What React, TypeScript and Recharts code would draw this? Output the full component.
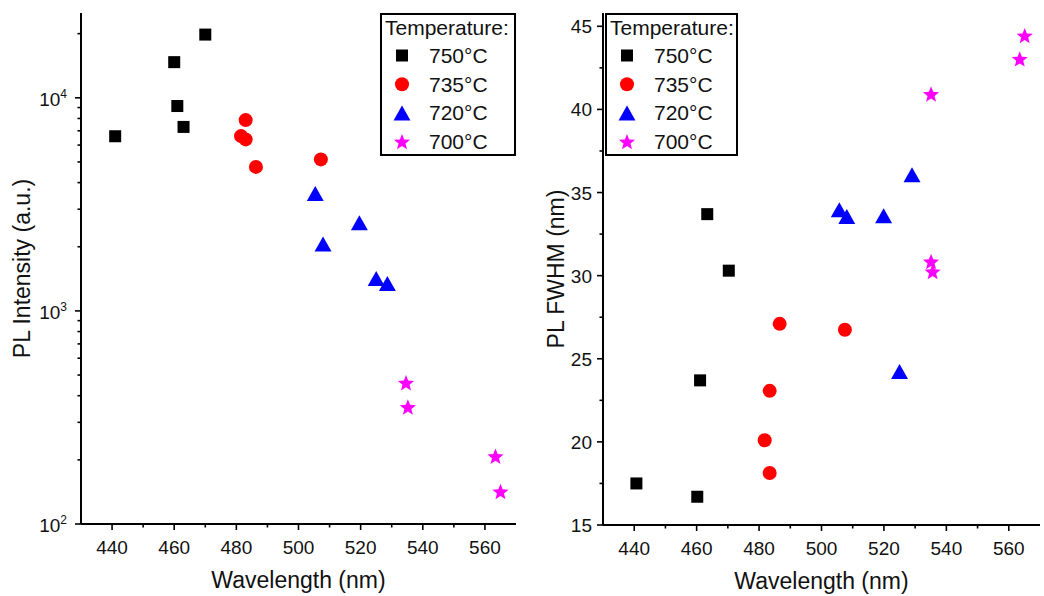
import { Label, Legend, Scatter, ScatterChart, XAxis, YAxis } from "recharts";

const FONT = "'Liberation Sans', Arial, Helvetica, sans-serif";
const INK = "#111";

// series: growth temperature
const TEMPS = ["750°C", "735°C", "720°C", "700°C"];
const COLORS = ["#000000", "#ff0000", "#0000ff", "#ff00ff"];
const SHAPES = ["square", "circle", "triangle", "star"];

// wavelength axis (shared)
const WL_MAJOR = [440, 460, 480, 500, 520, 540, 560];
const WL_MINOR = [450, 470, 490, 510, 530, 550];

// left panel: PL intensity (log)
const INT_MAJOR = [100, 1000, 10000];
const INT_MINOR = [
  200, 300, 400, 500, 600, 700, 800, 900,
  2000, 3000, 4000, 5000, 6000, 7000, 8000, 9000, 20000,
];
const INT_WL_750 = [441, 460, 461, 463, 470];
const INT_750 = [6600, 14700, 9150, 7300, 19800];
const INT_WL_735 = [483, 481.5, 483, 486.3, 507.2];
const INT_735 = [7860, 6610, 6380, 4740, 5140];
const INT_WL_720 = [505.4, 507.9, 519.6, 525, 528.6];
const INT_720 = [3560, 2060, 2590, 1420, 1345];
const INT_WL_700 = [534.6, 535.2, 563.4, 565];
const INT_700 = [460, 354, 208, 142];

// right panel: PL FWHM (nm)
const FWHM_MAJOR = [15, 20, 25, 30, 35, 40, 45];
const FWHM_MINOR = [17.5, 22.5, 27.5, 32.5, 37.5, 42.5];
const FW_WL_750 = [440.7, 460.2, 461.1, 463.4, 470.3];
const FW_750 = [17.5, 16.7, 23.7, 33.7, 30.3];
const FW_WL_735 = [486.6, 507.5, 483.4, 481.8, 483.4];
const FW_735 = [27.1, 26.75, 23.07, 20.1, 18.13];
const FW_WL_720 = [505.7, 508.1, 519.9, 529, 525];
const FW_720 = [33.96, 33.56, 33.6, 36.07, 24.23];
const FW_WL_700 = [565.1, 563.5, 535.1, 535.1, 535.6];
const FW_700 = [44.44, 43.04, 40.93, 30.85, 30.25];

type Pt = { x: number; y: number };
const zip = (xs: number[], ys: number[]): Pt[] => xs.map((x, i) => ({ x, y: ys[i] }));
const byNum = (a: number, b: number) => a - b;

function Marker({ shape, cx, cy, fill }: { shape: string; cx: number; cy: number; fill: string }) {
  if (shape === "square") return <rect x={cx - 6} y={cy - 6} width={12} height={12} fill={fill} />;
  if (shape === "circle") return <circle cx={cx} cy={cy} r={7} fill={fill} />;
  if (shape === "triangle")
    return <polygon points={`${cx},${cy - 7.5} ${cx + 8.5},${cy + 7.5} ${cx - 8.5},${cy + 7.5}`} fill={fill} />;
  // star
  const R = 8.5;
  const r = 3.7;
  const oy = cy + 0.8;
  const pts: string[] = [];
  for (let k = 0; k < 10; k++) {
    const rad = k % 2 === 0 ? R : r;
    const a = -Math.PI / 2 + (k * Math.PI) / 5;
    pts.push(`${cx + rad * Math.cos(a)},${oy + rad * Math.sin(a)}`);
  }
  return <polygon points={pts.join(" ")} fill={fill} />;
}

const txt = { fontFamily: FONT, fill: INK } as const;

const logLabel = (v: number, x: number, y: number) => (
  <text x={x} y={y + 8} textAnchor="end" fontSize={19} {...txt}>
    10<tspan fontSize={12} dy={-8}>{Math.round(Math.log10(v))}</tspan>
  </text>
);
const linLabel = (v: number, x: number, y: number) => (
  <text x={x} y={y + 7} textAnchor="end" fontSize={19} {...txt}>
    {v}
  </text>
);

function LegendBox({ payload, width }: { payload?: any[]; width: number }) {
  const items = [...(payload ?? [])].sort((a, b) => TEMPS.indexOf(a.value) - TEMPS.indexOf(b.value));
  return (
    <svg width={width} height={143} style={{ display: "block" }}>
      <rect x={1} y={1} width={width - 2} height={141} fill="#fff" stroke="#000" strokeWidth={2} />
      <text x={5} y={22} fontSize={21} {...txt}>Temperature:</text>
      {items.map((e, i) => {
        const base = 50 + i * 28.7;
        return (
          <g key={e.value}>
            <Marker shape={SHAPES[TEMPS.indexOf(e.value)]} cx={22} cy={base - 7.5} fill={e.color} />
            <text x={49} y={base} fontSize={21} {...txt}>{e.value}</text>
          </g>
        );
      })}
    </svg>
  );
}

type PanelProps = {
  left: number;
  width: number;
  yAxisWidth: number;
  xAxisHeight: number;
  yLabel: string;
  yLabelX: number;
  yScale: "log" | "linear";
  yDomain: [number, number];
  yMajor: number[];
  yMinor: number[];
  labelGap: number;
  fmt: (v: number, x: number, y: number) => any;
  legendLeft: number;
  legendWidth: number;
  series: Pt[][];
};

function Panel(p: PanelProps) {
  const xTicks = [...WL_MAJOR, ...WL_MINOR].sort(byNum);
  const yTicks = [...p.yMajor, ...p.yMinor].sort(byNum);
  const line = { stroke: "#000", strokeWidth: 2 };

  const xTick = (dir: number, labels: boolean) => (t: any) => {
    const major = WL_MAJOR.includes(t.payload.value);
    return (
      <g>
        <line x1={t.x} x2={t.x} y1={t.y} y2={t.y + dir * (major ? 6 : 3.5)} stroke="#000" strokeWidth={1.6} />
        {labels && major && (
          <text x={t.x} y={t.y + 30} textAnchor="middle" fontSize={19} {...txt}>
            {t.payload.value}
          </text>
        )}
      </g>
    );
  };
  const yTick = (dir: number, labels: boolean) => (t: any) => {
    const major = p.yMajor.includes(t.payload.value);
    return (
      <g>
        <line x1={t.x} x2={t.x + dir * (major ? 6 : 3.5)} y1={t.y} y2={t.y} stroke="#000" strokeWidth={1.6} />
        {labels && major && p.fmt(t.payload.value, t.x - p.labelGap, t.y)}
      </g>
    );
  };

  return (
    <div style={{ position: "absolute", left: p.left, top: 0 }}>
      <ScatterChart
        width={p.width}
        height={596}
        margin={{ top: 13, right: 4, bottom: 0, left: 0 }}
        style={{ fontFamily: FONT }}
      >
        <XAxis
          dataKey="x"
          type="number"
          domain={[430, 570]}
          allowDataOverflow
          ticks={xTicks}
          interval={0}
          height={p.xAxisHeight}
          tickSize={0}
          tickMargin={0}
          tickLine={false}
          axisLine={line}
          tick={xTick(1, true)}
        >
          <Label
            content={(l: any) => (
              <text
                x={l.viewBox.x + l.viewBox.width / 2}
                y={l.viewBox.y + 64}
                textAnchor="middle"
                fontSize={23}
                {...txt}
              >
                Wavelength (nm)
              </text>
            )}
          />
        </XAxis>
        <XAxis
          xAxisId="top"
          orientation="top"
          type="number"
          domain={[430, 570]}
          allowDataOverflow
          ticks={xTicks}
          interval={0}
          height={0}
          tickSize={0}
          tickMargin={0}
          tickLine={false}
          axisLine={line}
          tick={xTick(-1, false)}
        />
        <YAxis
          dataKey="y"
          type="number"
          scale={p.yScale}
          domain={p.yDomain}
          allowDataOverflow
          ticks={yTicks}
          interval={0}
          width={p.yAxisWidth}
          tickSize={0}
          tickMargin={0}
          tickLine={false}
          axisLine={line}
          tick={yTick(-1, true)}
        >
          <Label
            content={(l: any) => {
              const cy = l.viewBox.y + l.viewBox.height / 2;
              return (
                <text
                  x={p.yLabelX}
                  y={cy}
                  transform={`rotate(-90, ${p.yLabelX}, ${cy})`}
                  textAnchor="middle"
                  fontSize={23}
                  {...txt}
                >
                  {p.yLabel}
                </text>
              );
            }}
          />
        </YAxis>
        <YAxis
          yAxisId="right"
          orientation="right"
          type="number"
          scale={p.yScale}
          domain={p.yDomain}
          allowDataOverflow
          ticks={yTicks}
          interval={0}
          width={0}
          tickSize={0}
          tickMargin={0}
          tickLine={false}
          axisLine={line}
          tick={yTick(1, false)}
        />
        {p.series.map((data, i) => (
          <Scatter
            key={TEMPS[i]}
            name={TEMPS[i]}
            data={data}
            fill={COLORS[i]}
            isAnimationActive={false}
            shape={(s: any) => <Marker shape={SHAPES[i]} cx={s.cx} cy={s.cy} fill={COLORS[i]} />}
          />
        ))}
        <Legend
          layout="vertical"
          align="center"
          verticalAlign="middle"
          wrapperStyle={{ position: "absolute", left: p.legendLeft, top: 13, width: p.legendWidth, height: 143 }}
          content={(lp: any) => <LegendBox payload={lp.payload} width={p.legendWidth} />}
        />
      </ScatterChart>
    </div>
  );
}

export default function App() {
  return (
    <div style={{ position: "absolute", left: 0, top: 0, width: 1044, height: 596, background: "#fff" }}>
      <Panel
        left={0}
        width={520}
        yAxisWidth={81}
        xAxisHeight={72}
        yLabel="PL Intensity (a.u.)"
        yLabelX={30}
        yScale="log"
        yDomain={[100, 25000]}
        yMajor={INT_MAJOR}
        yMinor={INT_MINOR}
        labelGap={14}
        fmt={logLabel}
        legendLeft={380}
        legendWidth={136}
        series={[
          zip(INT_WL_750, INT_750),
          zip(INT_WL_735, INT_735),
          zip(INT_WL_720, INT_720),
          zip(INT_WL_700, INT_700),
        ]}
      />
      <Panel
        left={520}
        width={524}
        yAxisWidth={83}
        xAxisHeight={71}
        yLabel="PL FWHM (nm)"
        yLabelX={44}
        yScale="linear"
        yDomain={[15, 45.8]}
        yMajor={FWHM_MAJOR}
        yMinor={FWHM_MINOR}
        labelGap={11}
        fmt={linLabel}
        legendLeft={85}
        legendWidth={133}
        series={[
          zip(FW_WL_750, FW_750),
          zip(FW_WL_735, FW_735),
          zip(FW_WL_720, FW_720),
          zip(FW_WL_700, FW_700),
        ]}
      />
    </div>
  );
}
